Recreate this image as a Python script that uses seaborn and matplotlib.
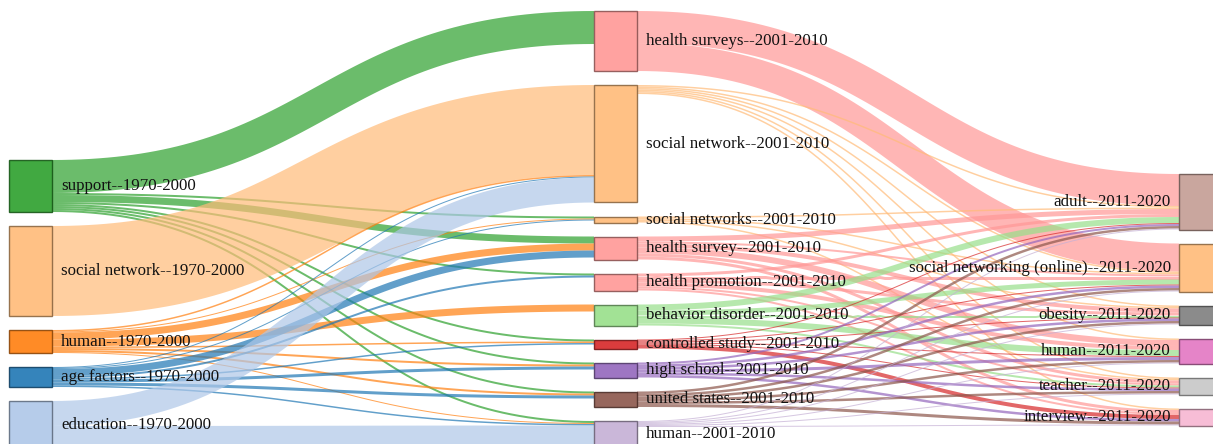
import numpy as np
import matplotlib
matplotlib.use("Agg")
import matplotlib.pyplot as plt
from matplotlib.patches import Rectangle, Polygon
import seaborn as sns

# ---------------- data ----------------
nodes_1970 = ["support", "social network", "human", "age factors", "education"]
nodes_2001 = ["health surveys", "social network", "social networks", "health survey",
              "health promotion", "behavior disorder", "controlled study", "high school",
              "united states", "human"]
nodes_2011 = ["adult", "social networking (online)", "obesity", "human", "teacher", "interview"]
periods = ["1970-2000", "2001-2010", "2011-2020"]

# links 1970-2000 -> 2001-2010 : (source, target, value)
links_a_src = ["support"] * 8 + ["social network"] + ["human"] * 8 + ["age factors"] * 8 + ["education"] * 2
links_a_tgt = ["health surveys", "social networks", "health survey", "health promotion",
               "controlled study", "high school", "united states", "human",
               "social network",
               "social network", "social networks", "health survey", "behavior disorder",
               "controlled study", "high school", "united states", "human",
               "social network", "social networks", "health survey", "health promotion",
               "controlled study", "high school", "united states", "human",
               "social network", "human"]
links_a_val = [33, 2, 7, 2, 2, 2, 2, 2,
               90,
               1.5, 1, 7, 7, 1.5, 2, 2, 1,
               1, 1, 7, 2, 1.5, 3, 3, 1.5,
               25, 22]

# links 2001-2010 -> 2011-2020
links_b_src = (["health surveys"] * 2 + ["social network"] * 6 + ["social networks"] * 4 +
               ["health survey"] * 6 + ["health promotion"] * 6 + ["behavior disorder"] * 5 +
               ["controlled study"] * 6 + ["high school"] * 6 + ["united states"] * 6 + ["human"] * 6)
all6 = ["adult", "social networking (online)", "obesity", "human", "teacher", "interview"]
links_b_tgt = (["adult", "social networking (online)"] + all6 +
               ["adult", "social networking (online)", "obesity", "teacher"] +
               all6 + all6 +
               ["adult", "social networking (online)", "obesity", "human", "teacher"] +
               all6 + all6 + all6 + all6)
links_b_val = ([32, 28] +
               [1.5, 1.5, 1.5, 1.5, 1.5, 1.5] +
               [1.5, 1.5, 1.5, 1.5] +
               [5, 2, 4, 6, 3, 3] +
               [3, 3, 3, 4, 2, 2] +
               [6, 5, 2, 6, 2] +
               [1, 1, 1, 1, 1, 4] +
               [2, 2.5, 2.5, 3, 2.5, 2.5] +
               [2.5, 2.5, 2.5, 2.5, 2.5, 3] +
               [1, 1, 1, 1, 1, 1])

# ---------------- style / layout ----------------
sns.set_theme(style="white")
plt.rcParams['font.family'] = ['Liberation Serif', 'DejaVu Serif']
pal = sns.color_palette("tab20")
color_idx = {
    0: [4, 3, 2, 0, 1],
    1: [7, 3, 3, 7, 7, 5, 6, 8, 10, 9],
    2: [11, 3, 14, 12, 15, 13],
}
W, H = 1213, 444
col_x0 = [9, 594, 1179]
node_w = 43
col_top = [160, 11, 174]
pad = 14
ky = 1.0
link_alpha = 0.7
label_size = 12.2

columns = [nodes_1970, nodes_2001, nodes_2011]
links = []
for s, t, v in zip(links_a_src, links_a_tgt, links_a_val):
    links.append({"s": (0, s), "t": (1, t), "v": v})
for s, t, v in zip(links_b_src, links_b_tgt, links_b_val):
    links.append({"s": (1, s), "t": (2, t), "v": v})

# node values
nodes = {}
for c, names in enumerate(columns):
    for n in names:
        nodes[(c, n)] = {"in": 0.0, "out": 0.0, "col": c}
for l in links:
    nodes[l["s"]]["out"] += l["v"]
    nodes[l["t"]]["in"] += l["v"]
for c, names in enumerate(columns):
    y = col_top[c]
    for i, n in enumerate(names):
        nd = nodes[(c, n)]
        val = max(nd["in"], nd["out"])
        nd["y0"] = y
        nd["y1"] = y + val * ky
        nd["x0"] = col_x0[c]
        nd["x1"] = col_x0[c] + node_w
        nd["color"] = pal[color_idx[c][i]]
        y = nd["y1"] + pad

# link positions
for key, nd in nodes.items():
    outs = sorted([l for l in links if l["s"] == key], key=lambda l: nodes[l["t"]]["y0"])
    y = nd["y0"]
    for l in outs:
        l["sy"] = y + l["v"] * ky / 2
        y += l["v"] * ky
    ins = sorted([l for l in links if l["t"] == key], key=lambda l: nodes[l["s"]]["y0"])
    y = nd["y0"]
    for l in ins:
        l["ty"] = y + l["v"] * ky / 2
        y += l["v"] * ky

fig = plt.figure(figsize=(W / 100, H / 100), dpi=100)
ax = fig.add_axes([0, 0, 1, 1])
ax.set_xlim(0, W)
ax.set_ylim(H, 0)
ax.axis("off")

t = np.linspace(0, 1, 80)
for l in links:
    sn, tn = nodes[l["s"]], nodes[l["t"]]
    x0, y0 = sn["x1"], l["sy"]
    x1, y1 = tn["x0"], l["ty"]
    xm = (x0 + x1) / 2
    px = (1 - t) ** 3 * x0 + 3 * (1 - t) ** 2 * t * xm + 3 * (1 - t) * t ** 2 * xm + t ** 3 * x1
    py = (1 - t) ** 3 * y0 + 3 * (1 - t) ** 2 * t * y0 + 3 * (1 - t) * t ** 2 * y1 + t ** 3 * y1
    dx = 3 * (1 - t) ** 2 * (xm - x0) + 3 * t ** 2 * (x1 - xm)
    dy = 6 * (1 - t) * t * (y1 - y0)
    norm = np.hypot(dx, dy)
    nx, ny = -dy / norm, dx / norm
    hw = max(l["v"] * ky, 1.0) / 2
    top = np.column_stack([px + nx * hw, py + ny * hw])
    bot = np.column_stack([px - nx * hw, py - ny * hw])[::-1]
    poly = Polygon(np.vstack([top, bot]), closed=True, facecolor=sn["color"],
                   edgecolor="none", alpha=link_alpha, zorder=1)
    ax.add_patch(poly)

for (c, n), nd in nodes.items():
    col = np.array(nd["color"])
    ax.add_patch(Rectangle((nd["x0"], nd["y0"]), node_w, nd["y1"] - nd["y0"],
                           facecolor=col, edgecolor=tuple(col * 0.55), linewidth=1.0,
                           alpha=0.9, zorder=3))
    label = f"{n}--{periods[c]}"
    yc = (nd["y0"] + nd["y1"]) / 2
    if c < 2:
        ax.text(nd["x1"] + 9, yc, label, ha="left", va="center", fontsize=label_size,
                color="#111111", zorder=4)
    else:
        ax.text(nd["x0"] - 8, yc, label, ha="right", va="center", fontsize=label_size,
                color="#111111", zorder=4)

fig.savefig("out.png", dpi=100)
